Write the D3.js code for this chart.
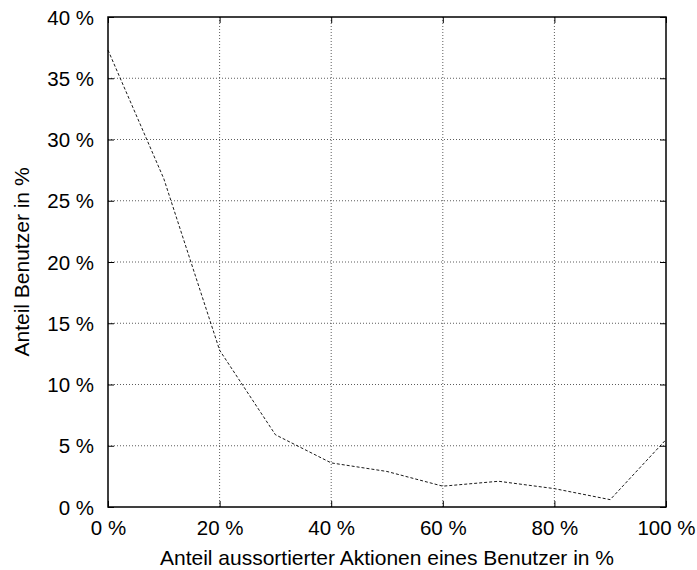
<!DOCTYPE html>
<html>
<head>
<meta charset="utf-8">
<script src="https://d3js.org/d3.v7.min.js"></script>
<style>
  body { margin: 0; background: #fff; }
  svg { display: block; font-family: "Liberation Sans", Arial, sans-serif; }
  .tick text { font-size: 20.5px; fill: #000; }
  .label { font-size: 21px; fill: #000; }
</style>
</head>
<body>
<div id="chart"></div>
<script>
const F_WIDTH = 697;
const F_HEIGHT = 570;
const MARGINS = {left: 108, right: 31, top: 17, bottom: 63};

const VIS_WIDTH = F_WIDTH - MARGINS.left - MARGINS.right;
const VIS_HEIGHT = F_HEIGHT - MARGINS.top - MARGINS.bottom;

// share of sorted-out actions per user (%)
const X_VALUES = [0, 10, 20, 30, 40, 50, 60, 70, 80, 90, 100];
// share of users (%)
const Y_VALUES = [37.3, 26.8, 12.8, 5.9, 3.6, 2.9, 1.7, 2.1, 1.5, 0.6, 5.5];

const X_TICKS = [0, 20, 40, 60, 80, 100];
const Y_TICKS = [0, 5, 10, 15, 20, 25, 30, 35, 40];

const X_TITLE = "Anteil aussortierter Aktionen eines Benutzer in %";
const Y_TITLE = "Anteil Benutzer in %";

const FRAME = d3.select("#chart")
  .append("svg")
    .attr("width", F_WIDTH)
    .attr("height", F_HEIGHT);

const X_SCALE = d3.scaleLinear().domain([0, 100]).range([0, VIS_WIDTH]);
const Y_SCALE = d3.scaleLinear().domain([0, 40]).range([VIS_HEIGHT, 0]);

const G = FRAME.append("g")
  .attr("transform", "translate(" + MARGINS.left + "," + MARGINS.top + ")");

// grid
G.append("g")
  .selectAll("line")
  .data(X_TICKS.slice(1, -1))
  .enter()
  .append("line")
    .attr("x1", (d) => X_SCALE(d))
    .attr("x2", (d) => X_SCALE(d))
    .attr("y1", 0)
    .attr("y2", VIS_HEIGHT)
    .attr("stroke", "#333")
    .attr("stroke-width", 0.8)
    .attr("stroke-dasharray", "1,2");

G.append("g")
  .selectAll("line")
  .data(Y_TICKS.slice(1, -1))
  .enter()
  .append("line")
    .attr("x1", 0)
    .attr("x2", VIS_WIDTH)
    .attr("y1", (d) => Y_SCALE(d))
    .attr("y2", (d) => Y_SCALE(d))
    .attr("stroke", "#333")
    .attr("stroke-width", 0.8)
    .attr("stroke-dasharray", "1,2");

// axes with inner ticks
const xAxis = G.append("g")
  .attr("transform", "translate(0," + VIS_HEIGHT + ")")
  .call(d3.axisBottom(X_SCALE).tickValues(X_TICKS).tickFormat((d) => d + " %").tickSizeInner(-6).tickSizeOuter(0).tickPadding(13));

const yAxis = G.append("g")
  .call(d3.axisLeft(Y_SCALE).tickValues(Y_TICKS).tickFormat((d) => d + " %").tickSizeInner(-6).tickSizeOuter(0).tickPadding(14));

// mirrored ticks
G.append("g")
  .attr("transform", "translate(" + VIS_WIDTH + ",0)")
  .call(d3.axisRight(Y_SCALE).tickValues(Y_TICKS).tickFormat("").tickSizeInner(-6).tickSizeOuter(0));
G.append("g")
  .call(d3.axisTop(X_SCALE).tickValues(X_TICKS).tickFormat("").tickSizeInner(-6).tickSizeOuter(0));

G.selectAll(".domain").remove();
G.selectAll(".tick line").attr("stroke", "#000").attr("stroke-width", 1);
yAxis.selectAll(".tick text").attr("dy", "0.35em");

// frame
G.append("rect")
  .attr("x", 0)
  .attr("y", 0)
  .attr("width", VIS_WIDTH)
  .attr("height", VIS_HEIGHT)
  .attr("fill", "none")
  .attr("stroke", "#000")
  .attr("stroke-width", 1.5);

// data line
const line = d3.line()
  .x((d, i) => X_SCALE(X_VALUES[i]))
  .y((d) => Y_SCALE(d));

G.append("path")
  .datum(Y_VALUES)
  .attr("d", line)
  .attr("fill", "none")
  .attr("stroke", "#000")
  .attr("stroke-width", 0.9)
  .attr("stroke-dasharray", "3,2");

// titles
FRAME.append("text")
  .attr("class", "label")
  .attr("x", MARGINS.left + VIS_WIDTH / 2)
  .attr("y", 565)
  .attr("text-anchor", "middle")
  .text(X_TITLE);

FRAME.append("text")
  .attr("class", "label")
  .attr("transform", "translate(29," + (MARGINS.top + VIS_HEIGHT / 2) + ") rotate(-90)")
  .attr("text-anchor", "middle")
  .text(Y_TITLE);
</script>
</body>
</html>
